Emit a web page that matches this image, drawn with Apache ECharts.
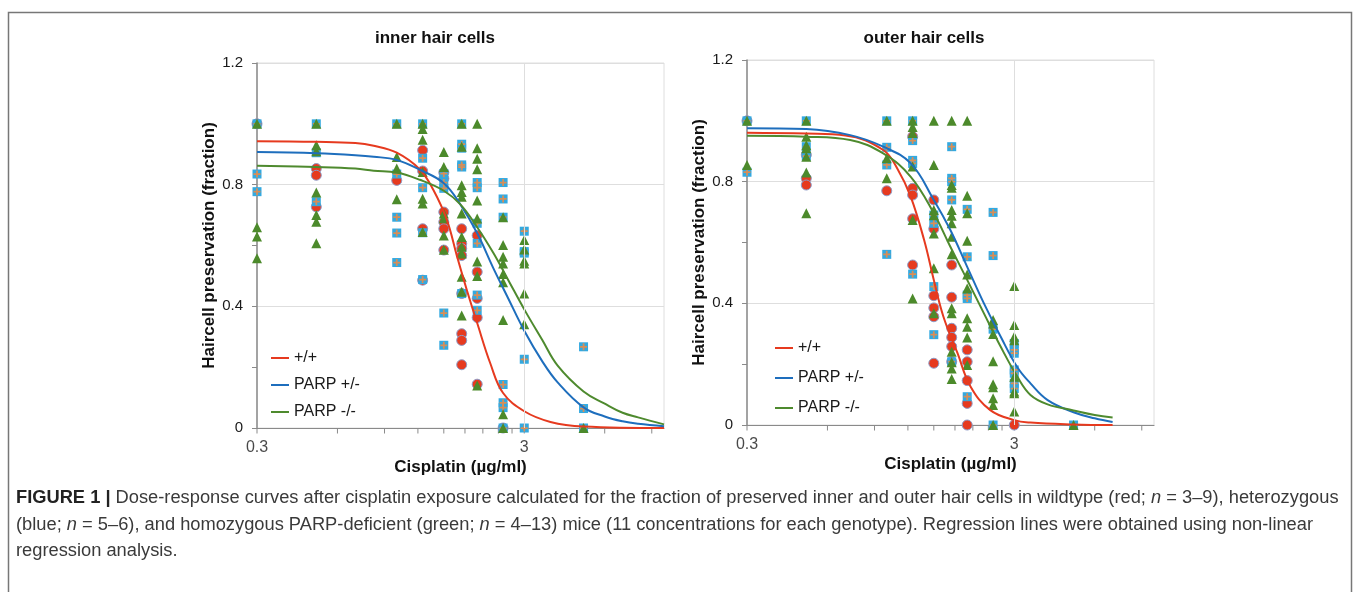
<!DOCTYPE html>
<html>
<head>
<meta charset="utf-8">
<title>Dose-response curves after cisplatin exposure</title>
<script src="https://cdn.jsdelivr.net/npm/echarts@6/dist/echarts.min.js"></script>
<style>
  html, body { margin: 0; padding: 0; background: #fff; }
  #chart { width: 1357px; height: 592px; }
</style>
</head>
<body>
<div id="chart"></div>
<script>
// cisplatin concentrations (µg/ml), one column of points per entry
const concentrations = [0.3, 0.5, 1, 1.25, 1.5, 1.75, 2, 2.5, 3, 5];

// inner hair cells, fraction preserved per animal (index = concentration)
const innerWT = [[1.0], [0.853, 0.831, 0.727], [0.814], [0.913, 0.845, 0.655, 0.486],
  [0.84, 0.82, 0.71, 0.677, 0.655, 0.585], [0.655, 0.606, 0.59, 0.567, 0.442, 0.31, 0.288, 0.208],
  [0.633, 0.513, 0.426, 0.363, 0.144], [0], [], []];
const innerHet = [[1.0, 0.835, 0.777], [1.0, 0.905, 0.744], [1.0, 0.835, 0.693, 0.641, 0.544],
  [1.0, 0.887, 0.79, 0.642, 0.488], [0.836, 0.807, 0.788, 0.378, 0.272],
  [1.0, 0.933, 0.92, 0.865, 0.858, 0.442], [0.807, 0.79, 0.673, 0.607, 0.437, 0.387],
  [0.807, 0.753, 0.693, 0.143, 0.083, 0.067, 0], [0.647, 0.58, 0.575, 0.226, 0], [0.267, 0.064, 0]];
const innerKO = [[1.0, 0.66, 0.63, 0.558], [1.0, 0.93, 0.91, 0.774, 0.70, 0.678, 0.607],
  [1.0, 0.891, 0.853, 0.752], [1.0, 0.983, 0.948, 0.842, 0.754, 0.738, 0.644],
  [0.907, 0.858, 0.705, 0.69, 0.633, 0.586],
  [1.0, 0.925, 0.798, 0.776, 0.76, 0.705, 0.628, 0.596, 0.574, 0.497, 0.448, 0.37],
  [1.0, 0.92, 0.885, 0.851, 0.748, 0.689, 0.547, 0.5, 0.14],
  [0.693, 0.602, 0.563, 0.541, 0.506, 0.479, 0.355, 0.045, 0],
  [0.618, 0.587, 0.55, 0.541, 0.442, 0.341], [0]];

// outer hair cells
const outerWT = [[1.0], [0.888, 0.811, 0.789], [0.77], [0.948, 0.778, 0.756, 0.678, 0.526],
  [0.74, 0.645, 0.425, 0.385, 0.356, 0.203], [0.526, 0.42, 0.318, 0.288, 0.258, 0.208],
  [0.247, 0.208, 0.146, 0.071, 0], [], [0], []];
const outerHet = [[1.0, 0.831], [1.0, 0.915, 0.884], [1.0, 0.913, 0.855, 0.561],
  [1.0, 0.935, 0.87, 0.86, 0.496], [0.69, 0.663, 0.455, 0.297], [0.915, 0.811, 0.8, 0.74, 0.208],
  [0.709, 0.553, 0.427, 0.416, 0.093], [0.699, 0.557, 0.315, 0],
  [0.268, 0.247, 0.236, 0.181, 0.17, 0.137, 0.12], [0]];
const outerKO = [[1.0, 0.855], [1.0, 0.948, 0.92, 0.91, 0.882, 0.83, 0.696], [1.0, 0.877, 0.811],
  [1.0, 0.98, 0.96, 0.85, 0.674, 0.416], [1.0, 0.855, 0.707, 0.69, 0.63, 0.515, 0.367],
  [1.0, 0.789, 0.78, 0.707, 0.688, 0.663, 0.619, 0.561, 0.384, 0.367, 0.241, 0.206, 0.186, 0.151],
  [1.0, 0.754, 0.696, 0.606, 0.495, 0.449, 0.351, 0.323, 0.288, 0.197],
  [0.345, 0.334, 0.299, 0.21, 0.134, 0.124, 0.088, 0.066, 0],
  [0.457, 0.329, 0.29, 0.279, 0.159, 0.11, 0.104, 0.044], [0]];

// regression curves as [concentration, fraction]
const innerWTFit = [[0.3, 0.943], [0.5, 0.941], [0.7, 0.937], [0.82, 0.928], [1, 0.905], [1.22, 0.85],
  [1.37, 0.783], [1.54, 0.684], [1.68, 0.565], [1.83, 0.453], [2, 0.345], [2.24, 0.212], [2.5, 0.115],
  [3, 0.055], [3.76, 0.02], [5, 0.005], [10, 0]];
const innerHetFit = [[0.3, 0.907], [0.5, 0.903], [0.7, 0.897], [0.82, 0.892], [1, 0.881], [1.22, 0.849],
  [1.5, 0.805], [1.73, 0.735], [2, 0.64], [2.3, 0.525], [2.6, 0.43], [3, 0.32], [3.5, 0.22], [4, 0.15],
  [5, 0.068], [6, 0.038], [7, 0.022], [8, 0.014], [10, 0.006]];
const innerKOFit = [[0.3, 0.862], [0.5, 0.858], [0.7, 0.853], [0.82, 0.846], [1, 0.84], [1.22, 0.816],
  [1.5, 0.78], [1.73, 0.735], [2, 0.66], [2.3, 0.575], [2.6, 0.49], [3, 0.39], [3.5, 0.29], [4, 0.205],
  [5, 0.12], [6, 0.08], [7, 0.05], [8, 0.035], [10, 0.012]];
const outerWTFit = [[0.3, 0.961], [0.5, 0.958], [0.7, 0.952], [0.97, 0.904], [1.1, 0.84], [1.23, 0.75],
  [1.38, 0.608], [1.5, 0.477], [1.63, 0.356], [1.84, 0.236], [2.06, 0.126], [2.44, 0.049], [3, 0.016],
  [3.45, 0.008], [5, 0.002], [7, 0]];
const outerHetFit = [[0.3, 0.976], [0.5, 0.973], [0.73, 0.953], [0.97, 0.915], [1.23, 0.86], [1.5, 0.74],
  [1.73, 0.641], [2, 0.52], [2.31, 0.40], [2.67, 0.29], [3.08, 0.19], [3.45, 0.137], [4, 0.082],
  [5, 0.042], [6, 0.022], [7, 0.01]];
const outerKOFit = [[0.3, 0.951], [0.5, 0.948], [0.73, 0.937], [0.97, 0.893], [1.23, 0.816], [1.5, 0.696],
  [1.73, 0.586], [2, 0.477], [2.31, 0.367], [2.67, 0.257], [3.08, 0.159], [3.45, 0.099], [4, 0.068],
  [5, 0.048], [6, 0.033], [7, 0.025]];

// axis ticks (excel style log axis from 0.3)
const xTickValues = [0.3, 0.6, 0.9, 1.2, 1.5, 1.8, 2.1, 2.4, 2.7, 3, 6, 9];
const xLabelValues = [0.3, 3];
const fitNames = ['+/+', 'PARP +/-', 'PARP -/-'];

const RED = '#E63A1F', BLUE = '#1E6EBD', GREEN = '#4E8A2E';
const SQUARE = '#33A9E0', PLUS = '#D88E57', TRIANGLE = '#4C8A2B';
const AXIS = '#8a8a8a', GRIDLINE = '#dedede';
const FONT = '"Liberation Sans", Arial, sans-serif';
const plusPath = 'path://M3,0h2v3h3v2h-3v3h-2v-3h-3v-2h3z';

function toPoints(cols) {
  const pts = [];
  cols.forEach((vals, i) => vals.forEach(v => pts.push([concentrations[i], v])));
  return pts;
}

function panelSeries(idx, wt, het, ko, fits) {
  const ax = { xAxisIndex: idx, yAxisIndex: idx, silent: true };
  const list = [];
  // tick marks under the x axis
  list.push(Object.assign({
    type: 'scatter', name: 'xticks' + idx, z: 1, clip: false,
    data: xTickValues.map(v => [v, 0]),
    symbol: 'rect', symbolSize: [1, 5], symbolOffset: [0, 3],
    itemStyle: { color: AXIS, opacity: 1 }
  }, ax));
  // tick labels + vertical gridline at 3
  list.push(Object.assign({
    type: 'scatter', name: 'xlabels' + idx, z: 1, clip: false,
    data: xLabelValues.map(v => [v, 0]),
    symbolSize: 1, itemStyle: { color: 'rgba(0,0,0,0)' },
    label: {
      show: true, position: 'bottom', distance: 11,
      formatter: p => String(p.value[0]),
      fontSize: 16, color: '#1a1a1a', fontFamily: FONT
    },
    markLine: {
      silent: true, symbol: ['none', 'none'], label: { show: false },
      lineStyle: { color: GRIDLINE, type: 'solid', width: 1 },
      data: [{ xAxis: 3 }]
    }
  }, ax));
  list.push(Object.assign({
    type: 'scatter', name: 'wt' + idx, data: toPoints(wt), symbol: 'circle', symbolSize: 10,
    itemStyle: { color: RED, borderColor: '#8d9bc8', borderWidth: 1, opacity: 1 }
  }, ax));
  list.push(Object.assign({
    type: 'scatter', name: 'het' + idx, data: toPoints(het), symbol: 'rect', symbolSize: 9,
    itemStyle: { color: SQUARE, opacity: 1 }
  }, ax));
  list.push(Object.assign({
    type: 'scatter', name: 'hetplus' + idx, data: toPoints(het), symbol: plusPath, symbolSize: 7,
    itemStyle: { color: PLUS, opacity: 1 }
  }, ax));
  list.push(Object.assign({
    type: 'scatter', name: 'ko' + idx, data: toPoints(ko), symbol: 'triangle', symbolSize: 10,
    itemStyle: { color: TRIANGLE, opacity: 1 }
  }, ax));
  [RED, BLUE, GREEN].forEach((c, k) => {
    list.push(Object.assign({
      type: 'line', name: fitNames[k], data: fits[k], smooth: 0.4, symbol: 'none',
      lineStyle: { color: c, width: 2 }, itemStyle: { color: c }
    }, ax));
  });
  return list;
}

function xAxisFor(idx) {
  return {
    type: 'log', logBase: 10, gridIndex: idx, min: 0.3, max: 10,
    axisLine: { lineStyle: { color: AXIS, width: 1.2 } },
    axisTick: { show: false }, axisLabel: { show: false }, splitLine: { show: false },
    name: 'Cisplatin (µg/ml)', nameLocation: 'middle', nameGap: 31,
    nameTextStyle: { fontSize: 17, fontWeight: 'bold', color: '#111', fontFamily: FONT }
  };
}

function yAxisFor(idx) {
  return {
    type: 'value', gridIndex: idx, min: 0, max: 1.2, interval: 0.4,
    axisLine: { show: true, lineStyle: { color: AXIS, width: 1.5 } },
    axisTick: { show: true, length: 5, lineStyle: { color: AXIS } },
    minorTick: { show: true, splitNumber: 2, length: 5, lineStyle: { color: AXIS } },
    axisLabel: {
      margin: 14, fontSize: 15, color: '#1a1a1a', fontFamily: FONT,
      formatter: v => (v === 0 ? '0' : v.toFixed(1))
    },
    splitLine: { lineStyle: { color: GRIDLINE } },
    name: 'Haircell preservation (fraction)', nameLocation: 'middle', nameGap: 35, nameRotate: 90,
    nameTextStyle: { fontSize: 17, fontWeight: 'bold', color: '#111', fontFamily: FONT }
  };
}

const legendBase = {
  data: fitNames, orient: 'vertical', itemWidth: 18, itemHeight: 2,
  icon: 'path://M0,0H18V2H0Z',
  textStyle: { fontSize: 16, color: '#1a1a1a', fontFamily: FONT }, selectedMode: false
};

const captionStyle = {
  fontSize: 18.3, fontFamily: FONT, fill: '#3a3a3a',
  rich: {
    b: { fontWeight: 'bold', fontSize: 18.3, fontFamily: FONT, fill: '#222' },
    i: { fontStyle: 'italic', fontSize: 18.3, fontFamily: FONT, fill: '#3a3a3a' }
  }
};

const option = {
  animation: false,
  backgroundColor: '#fff',
  textStyle: { fontFamily: FONT },
  grid: [
    { left: 257, top: 63, width: 407, height: 365, show: true, borderColor: GRIDLINE, borderWidth: 1, backgroundColor: 'transparent' },
    { left: 747, top: 60, width: 407, height: 365, show: true, borderColor: GRIDLINE, borderWidth: 1, backgroundColor: 'transparent' }
  ],
  xAxis: [xAxisFor(0), xAxisFor(1)],
  yAxis: [yAxisFor(0), yAxisFor(1)],
  legend: [
    Object.assign({ left: 266, top: 345, itemGap: 11 }, legendBase),
    Object.assign({ left: 770, top: 335, itemGap: 14 }, legendBase)
  ],
  series: panelSeries(0, innerWT, innerHet, innerKO, [innerWTFit, innerHetFit, innerKOFit])
    .concat(panelSeries(1, outerWT, outerHet, outerKO, [outerWTFit, outerHetFit, outerKOFit])),
  graphic: [
    {
      type: 'rect', silent: true, z: -1,
      shape: { x: 8.5, y: 12.5, width: 1343, height: 640 },
      style: { fill: 'none', stroke: '#777', lineWidth: 1.5 }
    },
    {
      type: 'text', x: 435, y: 38,
      style: { text: 'inner hair cells', align: 'center', verticalAlign: 'middle', fontSize: 17, fontWeight: 'bold', fontFamily: FONT, fill: '#111' }
    },
    {
      type: 'text', x: 924, y: 38,
      style: { text: 'outer hair cells', align: 'center', verticalAlign: 'middle', fontSize: 17, fontWeight: 'bold', fontFamily: FONT, fill: '#111' }
    },
    {
      type: 'text', x: 16, y: 498,
      style: Object.assign({
        text: '{b|FIGURE 1 |} Dose-response curves after cisplatin exposure calculated for the fraction of preserved inner and outer hair cells in wildtype (red; {i|n} = 3–9), heterozygous',
        verticalAlign: 'middle'
      }, captionStyle)
    },
    {
      type: 'text', x: 16, y: 525,
      style: Object.assign({
        text: '(blue; {i|n} = 5–6), and homozygous PARP-deficient (green; {i|n} = 4–13) mice (11 concentrations for each genotype). Regression lines were obtained using non-linear',
        verticalAlign: 'middle'
      }, captionStyle)
    },
    {
      type: 'text', x: 16, y: 551,
      style: Object.assign({ text: 'regression analysis.', verticalAlign: 'middle' }, captionStyle)
    }
  ]
};

const chart = echarts.init(document.getElementById('chart'), null, { renderer: 'canvas' });
chart.setOption(option);
</script>
</body>
</html>
